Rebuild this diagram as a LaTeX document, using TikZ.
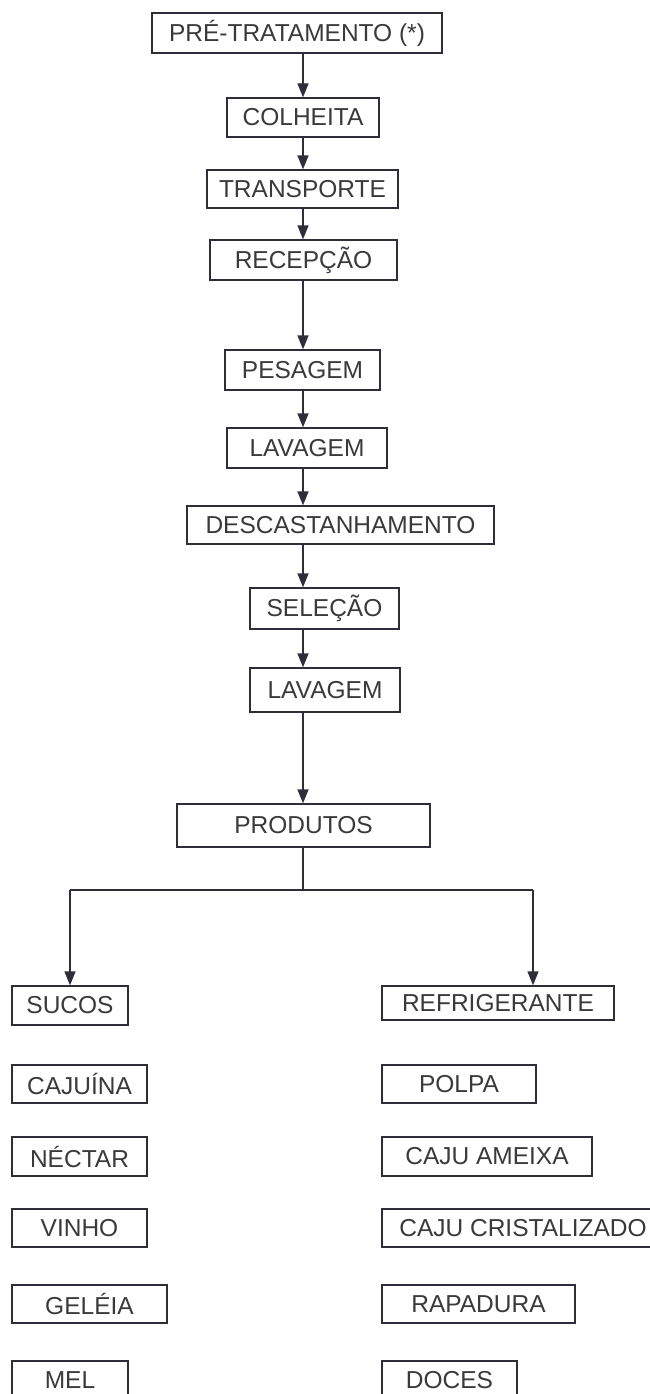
\documentclass[tikz,border=0pt]{standalone}
\usepackage{fontspec}
\setmainfont{Liberation Sans}
\usetikzlibrary{arrows.meta}
\definecolor{ink}{HTML}{2E2E3A}
\definecolor{txt}{HTML}{3A3A3A}
% box given by its corners (x1,y1) and (x2,y2), y measured downwards
\newcommand{\flowbox}[6]{%
  \pgfmathsetmacro{\bw}{#4-#2}\pgfmathsetmacro{\bh}{#5-#3}%
  \node[stepbox, minimum width=\bw pt, minimum height=\bh pt] (#1) at ({(#2+#4)/2},{(#3+#5)/2}) {#6};}
\begin{document}
\begin{tikzpicture}[x=1pt, y=-1pt,
  stepbox/.style={draw=ink, line width=1.3pt, inner sep=0pt, text=txt,
    font=\fontsize{24.5}{28}\selectfont},
  link/.style={draw=ink, line width=1.3pt},
  arr/.style={link, -{Triangle[length=14pt, width=11pt]}}]
\useasboundingbox (0,0) rectangle (650,1394);
\clip (0,0) rectangle (650,1394);
\fill[white] (0,0) rectangle (650,1394);

% processing chain
\flowbox{pre}{152}{13}{442}{53}{PRÉ-TRATAMENTO (*)}
\flowbox{colh}{227}{98}{379}{137}{COLHEITA}
\flowbox{transp}{207}{170}{398}{208}{TRANSPORTE}
\flowbox{recep}{210}{240}{397}{280}{RECEPÇÃO}
\flowbox{pesag}{225}{350}{380}{390}{PESAGEM}
\flowbox{lav}{227}{428}{387}{468}{LAVAGEM}
\flowbox{desc}{187}{506}{494}{544}{DESCASTANHAMENTO}
\flowbox{sel}{250}{588}{399}{629}{SELEÇÃO}
\flowbox{lavb}{250}{668}{400}{712}{LAVAGEM}
\flowbox{prod}{177}{804}{430}{847}{PRODUTOS}

% left column of products
\flowbox{sucos}{12}{986}{128}{1025}{SUCOS}
\flowbox{cajuina}{12}{1065}{147}{1103}{CAJUÍNA}
\flowbox{nectar}{12}{1137}{147}{1176}{NÉCTAR}
\flowbox{vinho}{12}{1209}{147}{1247}{VINHO}
\flowbox{geleia}{12}{1285}{167}{1323}{GELÉIA}
\flowbox{mel}{12}{1361}{128}{1400}{MEL}

% right column of products
\flowbox{refri}{382}{986}{614}{1020}{REFRIGERANTE}
\flowbox{polpa}{382}{1065}{536}{1103}{POLPA}
\flowbox{ameixa}{382}{1137}{592}{1176}{CAJU AMEIXA}
\flowbox{crist}{382}{1209}{664}{1247}{CAJU CRISTALIZADO}
\flowbox{rapad}{382}{1285}{575}{1323}{RAPADURA}
\flowbox{doces}{382}{1361}{517}{1400}{DOCES}

% vertical arrows along the chain
\coordinate (ax) at (303,0);
\foreach \a/\b in {pre/colh, colh/transp, transp/recep, recep/pesag,
                   pesag/lav, lav/desc, desc/sel, sel/lavb, lavb/prod}
  \draw[arr] (\a.south -| ax) -- (\b.north -| ax);

% branch to the two product groups
\coordinate (j) at (303,890);
\coordinate (lj) at (70,890);
\coordinate (rj) at (533,890);
\draw[link] (prod.south -| ax) -- (j);
\draw[link] (lj) -- (rj);
\draw[arr] (lj) -- (lj |- sucos.north);
\draw[arr] (rj) -- (rj |- refri.north);
\end{tikzpicture}
\end{document}
